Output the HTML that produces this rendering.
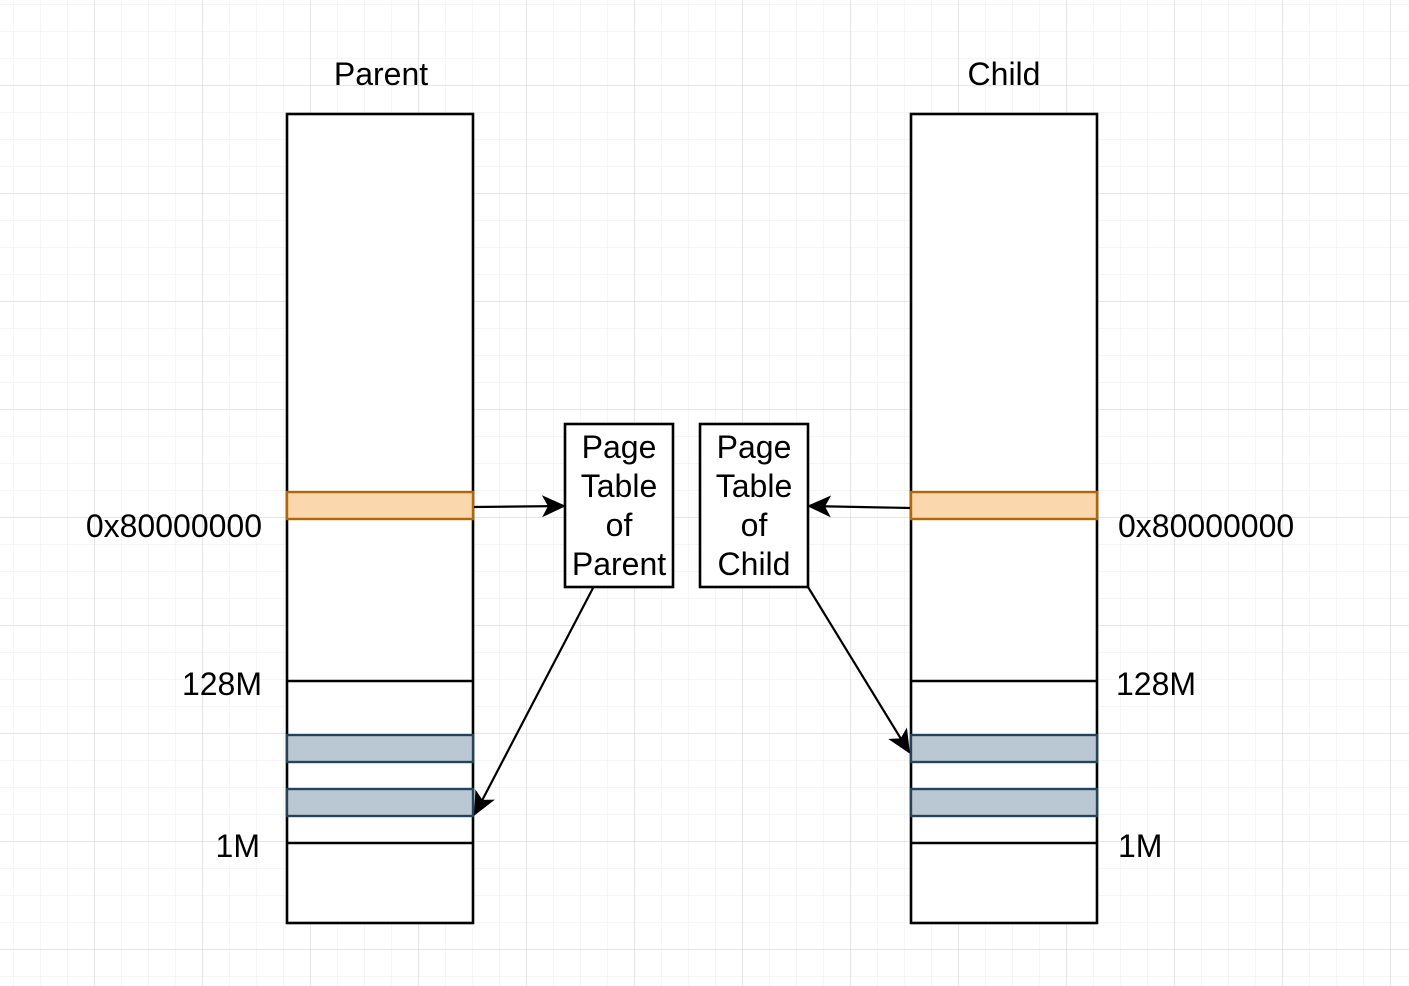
<!DOCTYPE html>
<html><head><style>html,body{margin:0;padding:0;background:#fff}svg{display:block}</style></head>
<body>
<svg width="1409" height="986" viewBox="0 0 1409 986" xmlns="http://www.w3.org/2000/svg" font-family="Liberation Sans, Arial, sans-serif">
<defs>
<pattern id="minor" x="13" y="4" width="27" height="27" patternUnits="userSpaceOnUse">
<path d="M0 0H27M0 0V27" stroke="#efefef" stroke-width="1.2" fill="none"/>
</pattern>
<pattern id="major" x="94" y="85" width="108" height="108" patternUnits="userSpaceOnUse">
<path d="M0 0H108M0 0V108" stroke="#d0d0d0" stroke-width="1" fill="none"/>
</pattern>
<marker id="ah" markerWidth="24" markerHeight="22" refX="22" refY="11" orient="auto" markerUnits="userSpaceOnUse" viewBox="0 0 24 22">
<path d="M0 0L24 11L0 22L6 11Z" fill="#000"/>
</marker>
</defs>
<rect width="1409" height="986" fill="url(#minor)"/>
<rect width="1409" height="986" fill="url(#major)"/>

<g stroke="#000" stroke-width="2.6" fill="#fff">
<rect x="287" y="114" width="186" height="809"/>
<rect x="911" y="114" width="186" height="809"/>
<line x1="287" y1="681" x2="473" y2="681"/>
<line x1="287" y1="843" x2="473" y2="843"/>
<line x1="911" y1="681" x2="1097" y2="681"/>
<line x1="911" y1="843" x2="1097" y2="843"/>
<rect x="565" y="424" width="108" height="163"/>
<rect x="700" y="424" width="108" height="163"/>
</g>
<g stroke-width="2.4">
<rect x="287" y="492" width="186" height="27" fill="#fad7ac" stroke="#b46504"/>
<rect x="911" y="492" width="186" height="27" fill="#fad7ac" stroke="#b46504"/>
<rect x="287" y="735" width="186" height="27" fill="#bac8d3" stroke="#23445d"/>
<rect x="287" y="789" width="186" height="27" fill="#bac8d3" stroke="#23445d"/>
<rect x="911" y="735" width="186" height="27" fill="#bac8d3" stroke="#23445d"/>
<rect x="911" y="789" width="186" height="27" fill="#bac8d3" stroke="#23445d"/>
</g>
<g stroke="#000" stroke-width="2.2" fill="none">
<line x1="474" y1="507" x2="564" y2="506" marker-end="url(#ah)"/>
<line x1="910" y1="508" x2="809" y2="506" marker-end="url(#ah)"/>
<line x1="593" y1="588" x2="475" y2="814" marker-end="url(#ah)"/>
<line x1="808" y1="587" x2="909" y2="752" marker-end="url(#ah)"/>
</g>
<g font-size="32" fill="#000">
<text x="381" y="85" text-anchor="middle">Parent</text>
<text x="1004" y="85" text-anchor="middle">Child</text>
<text x="262" y="537" text-anchor="end">0x80000000</text>
<text x="1118" y="537">0x80000000</text>
<text x="262" y="695" text-anchor="end">128M</text>
<text x="1116" y="695">128M</text>
<text x="260" y="857" text-anchor="end">1M</text>
<text x="1118" y="857">1M</text>
<g text-anchor="middle">
<text x="619" y="458">Page</text><text x="619" y="497">Table</text><text x="619" y="536">of</text><text x="619" y="575">Parent</text>
<text x="754" y="458">Page</text><text x="754" y="497">Table</text><text x="754" y="536">of</text><text x="754" y="575">Child</text>
</g>
</g>
</svg>
</body></html>
